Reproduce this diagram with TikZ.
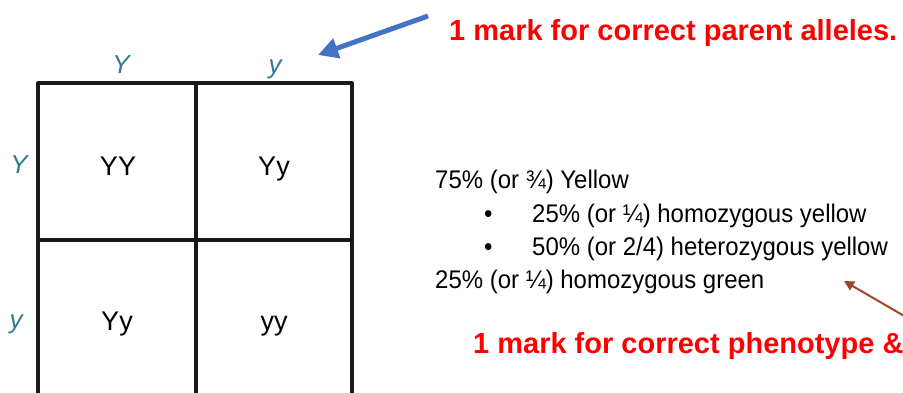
\documentclass[tikz,border=0pt]{standalone}
\usepackage{fontspec}
\setmainfont{Liberation Sans}
\newfontfamily\narrowsans[FakeStretch=0.94]{Liberation Sans}
\usetikzlibrary{arrows.meta}

\definecolor{allele}{RGB}{45,125,145}
\definecolor{markred}{RGB}{255,0,0}
\definecolor{arrowblue}{RGB}{68,114,196}
\definecolor{arrowbrown}{RGB}{160,70,40}

\tikzset{
    gridline/.style={line width=3.2pt, black!90},
    genotype/.style={anchor=base, inner sep=0pt, font=\fontsize{27}{30}\selectfont},
    parent/.style={anchor=base, inner sep=0pt, text=allele, font=\fontsize{26}{30}\selectfont\itshape},
    marktext/.style={anchor=base west, inner sep=0pt, text=markred, font=\fontsize{29}{32}\selectfont\bfseries},
    ratio/.style={anchor=base west, inner sep=0pt, font=\narrowsans\fontsize{25.5}{28}\selectfont}
}

\begin{document}
\begin{tikzpicture}[
    x=1pt, y=-1pt,
    line cap=round,
    line join=round
]

\useasboundingbox (0,0) rectangle (903,392);
\clip (0,0) rectangle (903,392);

% Quadrato di Punnett
\draw[gridline] (38,83) rectangle (352,397);
\draw[gridline] (196,83) -- (196,397);
\draw[gridline] (38,240) -- (352,240);

% Alleli dei genitori
\node[parent] (topY) at (121,73) {Y};
\node[parent] (topy) at (275,73) {y};
\node[parent] (leftY) at (19,173) {Y};
\node[parent] (lefty) at (16,328) {y};

% Genotipi
\node[genotype] (cellYY) at (118,175) {YY};
\node[genotype] (cellYy) at (274,175) {Yy};
\node[genotype] (cellyY) at (117,330) {Yy};
\node[genotype] (cellyy) at (274,330) {yy};

% Rapporti
\node[ratio] (yellow) at (435,188) {75\% (or ¾) Yellow};
\node[ratio] (bulletA) at (484,222) {•};
\node[ratio] (homoY) at (532,222) {25\% (or ¼) homozygous yellow};
\node[ratio] (bulletB) at (484,255) {•};
\node[ratio] (heteroY) at (532,255) {50\% (or 2/4) heterozygous yellow};
\node[ratio] (green) at (435,288) {25\% (or ¼) homozygous green};

% Punteggi
\node[marktext] (parentmark) at (449,40) {1 mark for correct parent alleles.};
\node[marktext] (phenomark) at (473,353) {1 mark for correct phenotype \&};

% Frecce
\coordinate (bluetail) at (428,16);
\coordinate (bluetip) at (318,55);
\draw[arrowblue, line width=5pt, line cap=butt, -{Triangle[length=20pt, width=20pt]}]
    (bluetail) -- (bluetip);

\coordinate (browntail) at (930,331);
\coordinate (browntip) at (844,281);
\draw[arrowbrown, line width=2pt, line cap=butt, -{Triangle[length=10pt, width=10pt]}]
    (browntail) -- (browntip);

\end{tikzpicture}
\end{document}
